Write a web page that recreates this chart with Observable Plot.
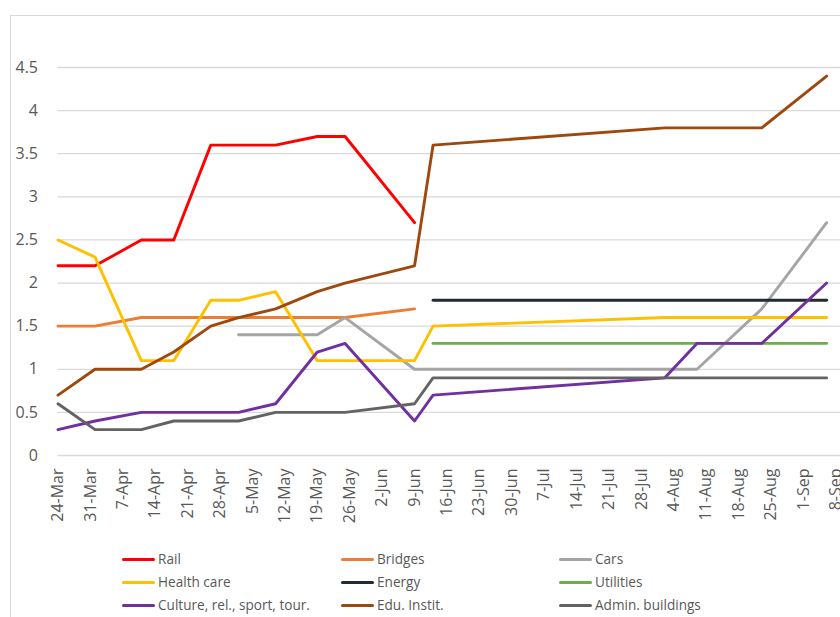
<!DOCTYPE html>
<html>
<head>
<meta charset="utf-8">
<script src="https://cdn.jsdelivr.net/npm/d3@7"></script>
<script src="https://cdn.jsdelivr.net/npm/@observablehq/plot@0.6"></script>
<style>
  html, body { margin: 0; padding: 0; background: #fff; }
  #wrap { position: relative; width: 840px; height: 617px; overflow: hidden; font-family: "Open Sans", "Liberation Sans", sans-serif; }
  #frame { position: absolute; left: 10px; top: 15px; width: 1000px; height: 1000px; border-left: 1px solid #d9d9d9; border-top: 1px solid #d9d9d9; }
  #chart { position: absolute; left: 0; top: 0; width: 880px; height: 540px; }
  #legend { position: absolute; left: 0; top: 540px; width: 840px; height: 77px; }
  .item { position: absolute; height: 20px; line-height: 20px; font-size: 13.6px; color: #595959; white-space: nowrap; }
  .item .sw { display: inline-block; width: 33px; height: 3px; border-radius: 1.5px; vertical-align: middle; margin-right: 3px; position: relative; top: -1px; }
</style>
</head>
<body>
<div id="wrap">
  <div id="frame"></div>
  <div id="chart"></div>
  <div id="legend"></div>
</div>
<script>
// Observation dates (x positions of the points)
const dates = ["2022-03-24","2022-04-01","2022-04-11","2022-04-18","2022-04-26","2022-05-02","2022-05-10","2022-05-19","2022-05-25","2022-06-09","2022-06-13","2022-08-02","2022-08-09","2022-08-23","2022-09-06"];

// Series values (null = no data)
const rail      = [2.2, 2.2, 2.5, 2.5, 3.6, 3.6, 3.6, 3.7, 3.7, 2.7, null, null, null, null, null];
const bridges   = [1.5, 1.5, 1.6, 1.6, 1.6, 1.6, 1.6, 1.6, 1.6, 1.7, null, null, null, null, null];
const cars      = [null, null, null, null, null, 1.4, 1.4, 1.4, 1.6, 1.0, 1.0, 1.0, 1.0, 1.7, 2.7];
const health    = [2.5, 2.3, 1.1, 1.1, 1.8, 1.8, 1.9, 1.1, 1.1, 1.1, 1.5, 1.6, 1.6, 1.6, 1.6];
const energy    = [null, null, null, null, null, null, null, null, null, null, 1.8, 1.8, 1.8, 1.8, 1.8];
const utilities = [null, null, null, null, null, null, null, null, null, null, 1.3, 1.3, 1.3, 1.3, 1.3];
const culture   = [0.3, 0.4, 0.5, 0.5, 0.5, 0.5, 0.6, 1.2, 1.3, 0.4, 0.7, 0.9, 1.3, 1.3, 2.0];
const edu       = [0.7, 1.0, 1.0, 1.2, 1.5, 1.6, 1.7, 1.9, 2.0, 2.2, 3.6, 3.8, 3.8, 3.8, 4.4];
const admin     = [0.6, 0.3, 0.3, 0.4, 0.4, 0.4, 0.5, 0.5, 0.5, 0.6, 0.9, 0.9, 0.9, 0.9, 0.9];

const seriesNames  = ["Rail", "Bridges", "Cars", "Health care", "Energy", "Utilities", "Culture, rel., sport, tour.", "Edu. Instit.", "Admin. buildings"];
const seriesColors = ["#ff0000", "#ed7d31", "#a5a5a5", "#ffc000", "#222a35", "#70ad47", "#7030a0", "#9e480e", "#636363"];
const seriesValues = [rail, bridges, cars, health, energy, utilities, culture, edu, admin];

// Tick labels
const yTicks = [0, 0.5, 1, 1.5, 2, 2.5, 3, 3.5, 4, 4.5];
const xTickStart = "2022-03-24";
const xTickCount = 25; // weekly ticks: 24-Mar ... 8-Sep

const parse = d3.utcParse("%Y-%m-%d");
const xTicks = d3.range(xTickCount).map(i => d3.utcDay.offset(parse(xTickStart), 7 * i));

const rows = [];
seriesNames.forEach((name, s) => {
  seriesValues[s].forEach((v, i) => {
    rows.push({ series: name, date: parse(dates[i]), value: v });
  });
});

const plot = Plot.plot({
  width: 880,
  height: 540,
  marginLeft: 57.5,
  marginRight: 12.2,
  marginTop: 67,
  marginBottom: 85,
  style: { background: "transparent", maxWidth: "none", overflow: "visible", fontFamily: "'Open Sans', 'Liberation Sans', sans-serif", color: "#595959" },
  x: { type: "utc", domain: [parse("2022-03-24"), parse("2022-09-15")] },
  y: { domain: [0, 4.5] },
  color: { domain: seriesNames, range: seriesColors },
  marks: [
    Plot.gridY(yTicks, { stroke: "#d9d9d9", strokeOpacity: 1, strokeWidth: 1.3 }),
    Plot.axisY(yTicks, { tickSize: 0, tickPadding: 20, tickFormat: d => String(d), fontSize: 16, fill: "#595959", label: null }),
    Plot.axisX(xTicks, { tickSize: 0, tickPadding: 13, tickRotate: -90, tickFormat: d3.utcFormat("%-d-%b"), fontSize: 16, fill: "#595959", label: null }),
    Plot.line(rows, { x: "date", y: "value", z: "series", stroke: "series", strokeWidth: 2.9, strokeLinejoin: "round", strokeLinecap: "round" })
  ]
});
document.getElementById("chart").appendChild(plot);

// Legend (HTML, below the SVG)
const legendCols = [122, 341, 559];
const legendRows = [19, 42, 65];
const legend = document.getElementById("legend");
seriesNames.forEach((name, i) => {
  const el = document.createElement("div");
  el.className = "item";
  el.style.left = legendCols[i % 3] + "px";
  el.style.top = (legendRows[Math.floor(i / 3)] - 10) + "px";
  const sw = document.createElement("span");
  sw.className = "sw";
  sw.style.background = seriesColors[i];
  el.appendChild(sw);
  el.appendChild(document.createTextNode(name));
  legend.appendChild(el);
});
</script>
</body>
</html>
